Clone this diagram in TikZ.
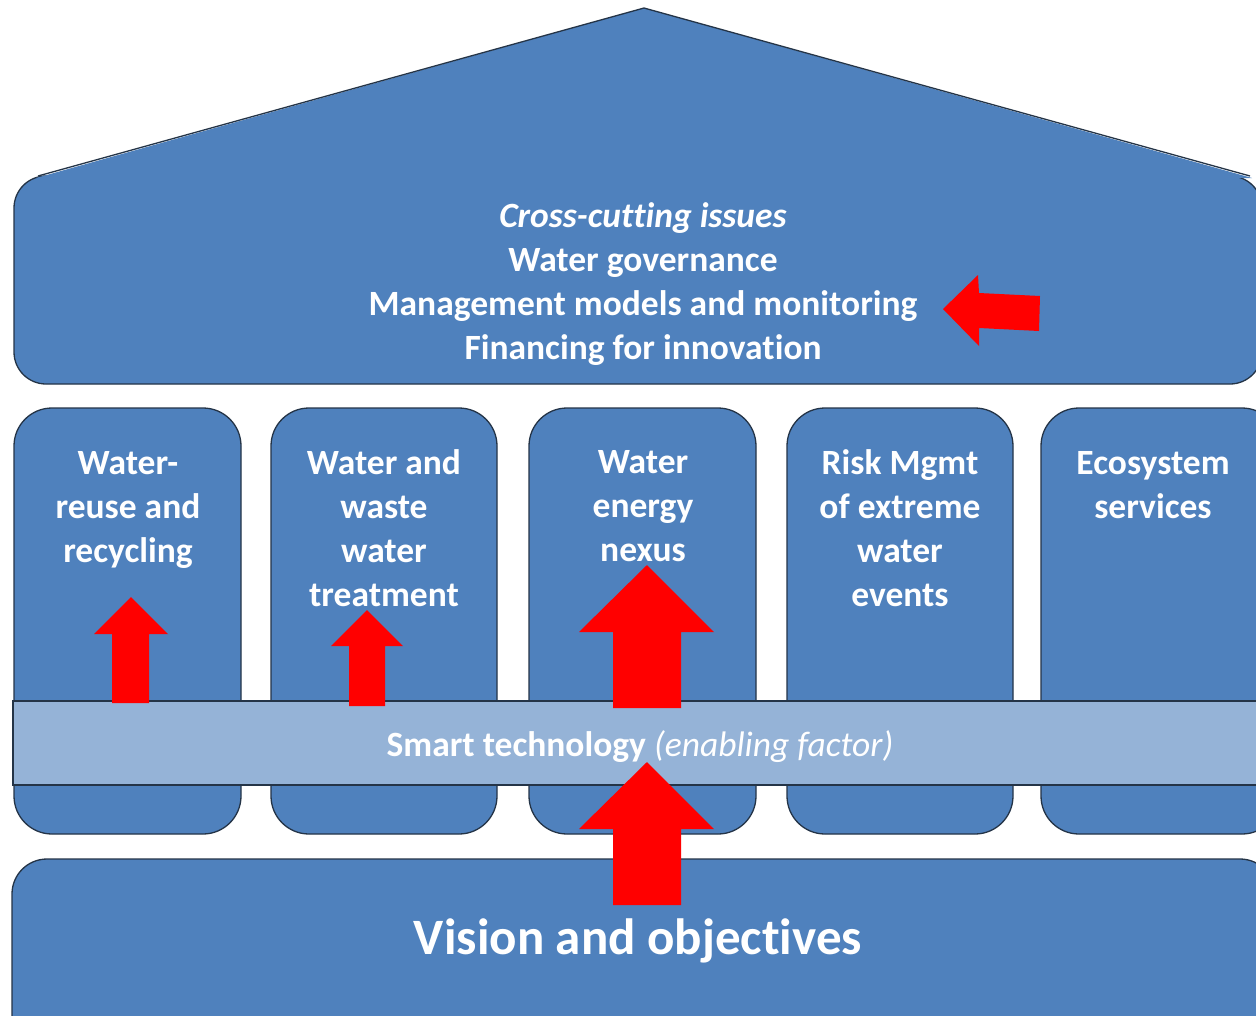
\documentclass[tikz,border=0pt]{standalone}
\usepackage{fontspec}
\setmainfont{Carlito}[Ligatures={NoCommon}]
\definecolor{pblue}{HTML}{4F81BD}
\definecolor{plight}{HTML}{95B3D7}
\definecolor{pred}{HTML}{FF0000}
\definecolor{pline}{HTML}{243447}
\begin{document}
\begin{tikzpicture}[x=1pt,y=-1pt,
  box/.style={fill=pblue,draw=pline,line width=1.3pt},
  band/.style={fill=plight,draw=pline,line width=1.3pt},
  redarrow/.style={fill=pred,draw=none},
  lbl/.style={text=white,align=center,font=\bfseries\fontsize{35.5}{44}\selectfont,inner sep=0pt}]
\clip (0,0) rectangle (1256,1015);
\fill[white] (0,0) rectangle (1256,1015);
% top box + roof
\draw[box,rounded corners=32] (14,176) rectangle (1262,384);
\fill[pblue] (36,178) -- (644,8) -- (1252,178) -- cycle;
\draw[pline,line width=1.3pt] (38,176) -- (644,8) -- (1250,176);
% pillars
\draw[box,rounded corners=38] (14,408) rectangle (241,834);
\draw[box,rounded corners=38] (271,408) rectangle (497,834);
\draw[box,rounded corners=38] (529,408) rectangle (756,834);
\draw[box,rounded corners=38] (787,408) rectangle (1013,834);
\draw[box,rounded corners=38] (1041,408) rectangle (1280,834);
% band
\draw[band] (13,701) rectangle (1275,785);
% base
\draw[box,rounded corners=35] (12,859) rectangle (1275,1060);
% texts
\node[lbl] (cross) at (643,284.5) {\textit{Cross-cutting issues}\\Water governance\\Management models and monitoring\\Financing for innovation};
\node[lbl] (p1) at (128,510) {Water-\\reuse and\\recycling};
\node[lbl] (p2) at (384,528) {Water and\\waste\\water\\treatment};
\node[lbl] (p3) at (643,506) {Water\\energy\\nexus};
\node[lbl] (p4) at (900,528) {Risk Mgmt\\of extreme\\water\\events};
\node[lbl] (p5) at (1153,485) {Ecosystem\\services};
\node[lbl] (smart) at (640,747) {Smart technology \mdseries\itshape(enabling factor)};
\node[lbl,font=\bfseries\fontsize{51}{60}\selectfont] (vision) at (638,941) {Vision and objectives};
% red arrows
\fill[redarrow] (131,597) -- (168,634) -- (149,634) -- (149,703) -- (112,703) -- (112,634) -- (94,634) -- cycle;
\fill[redarrow] (367,610) -- (403,646) -- (385,646) -- (385,706) -- (349,706) -- (349,646) -- (331,646) -- cycle;
\fill[redarrow] (647,565) -- (714,632) -- (681,632) -- (681,708) -- (613,708) -- (613,632) -- (579,632) -- cycle;
\fill[redarrow] (647,762) -- (714,829) -- (681,829) -- (681,905) -- (613,905) -- (613,829) -- (579,829) -- cycle;
\fill[redarrow] (943,309) -- (978,275) -- (979,293) -- (1040,296) -- (1039,331) -- (979,328) -- (979,346) -- cycle;
\end{tikzpicture}
\end{document}
